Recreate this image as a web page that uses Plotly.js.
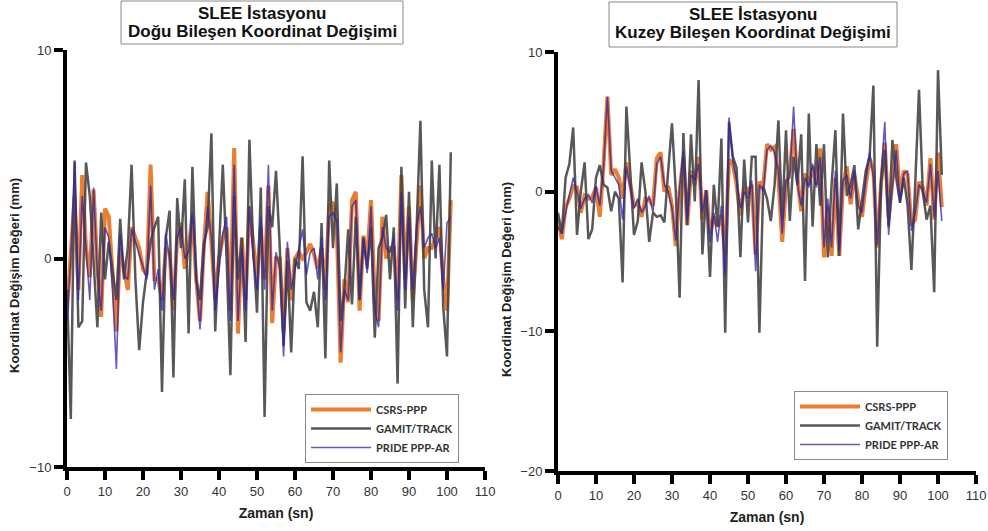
<!DOCTYPE html>
<html><head><meta charset="utf-8">
<script src="https://cdn.plot.ly/plotly-3.0.1.min.js"></script>
<style>html,body{margin:0;padding:0;background:#fff;}#chart{width:988px;height:531px;}</style>
</head><body><div id="chart"></div>
<script>
// sampling time (s)
const time = Array.from({length:102},(_,i)=>i);
const xTicks = [0,10,20,30,40,50,60,70,80,90,100,110];
const yTicksEast = [-10,0,10];
const yTicksNorth = [-20,-10,0,10];

// East component (mm)
const csrsEast = [-2.5,0.5,3.0,-1.5,4.0,0.5,-0.9,3.3,-0.5,-2.8,
 2.4,2.0,-1.0,-3.5,0.5,-0.5,-1.5,1.5,1.0,0.5,
 -0.5,-0.8,4.5,-1.0,-1.0,-2.0,0.5,0.3,-2.5,1.0,
 1.7,-0.5,0.5,2.0,-1.0,-3.0,0.5,3.2,0.8,-2.0,
 0.0,1.0,1.5,-2.5,5.3,-3.6,1.0,-2.0,2.5,0.5,
 -1.0,1.5,-1.0,3.5,-3.1,0.0,0.0,-3.5,0.5,-2.0,
 0.0,0.3,0.0,0.3,0.7,0.2,-0.5,0.5,-1.5,2.5,
 2.7,1.5,-5.0,-1.0,-2.1,2.8,3.2,-2.5,1.1,0.0,
 2.8,-2.0,-3.0,2.0,0.0,0.5,0.5,-2.0,4.0,-1.0,
 2.5,-2.0,1.0,3.5,0.0,0.5,0.5,1.0,1.5,-1.0,
 -2.5,2.8];
const gamitEast = [-1.5,-7.7,4.7,-3.3,-3.0,4.6,3.0,0.0,-3.3,2.2,
 -1.0,0.8,-0.5,-2.0,1.9,-1.0,0.5,4.5,-1.0,-4.4,
 -2.1,-0.5,0.8,1.5,2.0,-6.4,1.0,2.3,-5.7,2.9,
 0.5,3.8,-3.6,4.4,-1.0,-2.0,0.7,1.5,6.0,-3.5,
 0.5,4.5,0.0,-5.6,3.0,-1.0,1.0,-4.0,5.7,0.5,
 -2.6,3.4,-7.6,2.5,1.5,4.2,0.5,-4.2,-0.1,-4.5,
 0.0,-0.5,4.9,-2.1,-2.5,-1.6,-3.3,1.7,-4.8,4.7,
 0.5,3.6,-3.0,-1.5,1.4,-2.2,2.0,-2.0,1.0,-0.5,
 1.5,-3.8,0.5,1.0,2.1,-1.0,1.5,-6.0,4.4,-2.4,
 3.2,-3.3,1.4,6.6,-1.5,-3.3,4.7,0.0,4.5,-2.3,
 -4.7,5.1];
const prideEast = [-3.0,0.0,4.6,-2.0,3.0,0.3,-2.0,3.4,-0.8,-2.5,
 1.5,1.0,-1.5,-5.3,1.2,-0.8,-1.0,1.4,0.8,0.3,
 -0.3,-1.0,3.5,-1.5,-0.5,-2.5,1.2,0.0,-2.0,1.0,
 1.5,0.0,0.3,2.2,-0.8,-3.4,0.2,2.5,1.0,-2.5,
 -0.5,1.2,2.0,-3.0,4.5,-3.0,0.5,-2.5,2.5,0.0,
 -1.5,2.0,-1.5,4.5,-2.5,0.3,-0.5,-4.7,0.8,-1.5,
 -0.5,0.5,1.4,-0.8,0.3,0.5,-1.0,1.0,-2.0,2.0,
 2.2,1.8,-4.5,-1.5,-2.0,2.5,2.8,-2.0,1.0,-0.7,
 2.5,-2.5,-3.3,1.5,0.5,0.3,1.0,-2.5,3.2,-1.5,
 2.0,-1.5,1.5,2.5,0.5,1.0,1.2,0.5,1.0,-1.5,
 1.7,2.0];

// North component (mm)
const csrsNorth = [-2.0,-3.4,-1.1,-0.5,0.4,0.3,-1.5,-0.3,-0.5,-0.4,
 0.3,-1.8,2.0,6.8,1.2,1.6,1.0,-0.5,2.1,0.5,
 -1.0,-0.8,-1.8,-0.5,-0.6,-1.0,2.4,2.8,0.0,0.4,
 -1.0,-3.9,0.0,2.5,-2.4,1.5,0.5,2.5,-2.0,0.1,
 -3.0,-1.8,-2.5,-1.7,-4.5,2.3,2.0,0.5,-1.7,0.4,
 0.0,0.5,-4.5,0.7,0.4,3.4,3.0,3.2,1.0,-3.6,
 0.5,1.5,4.5,1.0,-1.4,1.3,0.5,1.8,0.5,3.1,
 -4.7,-1.0,-4.6,1.0,-4.6,0.5,1.8,-0.9,1.2,-0.5,
 -1.8,0.5,2.4,1.5,-4.0,0.5,3.5,-1.9,0.5,3.4,
 -0.3,1.5,1.2,-2.4,-2.0,0.7,0.3,-1.0,2.4,-2.0,
 2.8,-1.1];
const gamitNorth = [-1.5,-3.0,1.0,2.0,4.6,-3.1,0.0,2.1,-3.4,-2.7,
 1.0,1.9,0.5,0.3,-1.4,0.0,-0.5,-6.5,6.1,1.0,
 -3.1,-2.1,2.1,0.0,-3.6,-1.5,-1.8,-1.7,-2.2,1.5,
 4.9,0.0,-7.6,4.2,-2.4,4.1,-0.7,8.0,-4.5,0.1,
 -6.1,0.5,-2.5,3.8,-10.1,5.0,2.5,1.7,-4.7,2.3,
 -2.2,2.5,2.5,-10.1,0.4,-0.5,-2.1,0.5,5.1,-2.0,
 4.4,-2.1,2.5,0.5,4.1,-6.4,5.6,-2.5,3.4,-1.0,
 3.4,-4.7,0.5,4.4,-4.6,5.6,-0.3,0.5,1.9,-2.7,
 -0.5,1.5,2.5,7.6,-11.1,0.5,3.0,-2.5,3.7,1.0,
 -0.8,1.0,-1.0,-5.6,0.5,7.3,0.0,-2.0,-1.0,-7.2,
 8.7,1.2];
const prideNorth = [-2.5,-3.0,-1.5,-0.3,1.0,0.0,-1.2,-0.5,-0.2,-0.8,
 0.4,-1.0,1.8,6.8,1.5,1.0,0.5,-2.0,1.8,0.3,
 -1.2,-0.5,-1.5,-1.0,-0.3,-1.5,2.0,2.5,0.5,0.0,
 -1.2,-3.5,0.3,2.9,-2.0,1.2,0.8,2.0,-1.5,0.1,
 -3.6,-1.5,-3.6,-1.0,-6.0,5.3,2.2,0.8,-1.2,0.0,
 -0.5,0.8,-5.7,0.5,0.0,3.0,3.3,2.8,1.5,-3.0,
 0.8,1.0,6.1,0.5,-1.0,1.0,0.3,2.0,0.3,2.5,
 -4.0,-0.5,-4.0,1.5,-4.2,0.8,1.2,-0.5,1.5,-1.0,
 -1.5,0.8,2.8,1.0,-3.8,1.0,5.0,-3.1,0.3,3.0,
 -0.8,1.3,1.5,-2.8,-1.5,0.5,0.0,-0.8,2.0,-1.8,
 1.5,-2.1];

const seriesNames = ['CSRS-PPP','GAMIT/TRACK','PRIDE PPP-AR'];
const stationTitle = 'SLEE İstasyonu';
const titleEast = 'Doğu Bileşen Koordinat Değişimi';
const titleNorth = 'Kuzey Bileşen Koordinat Değişimi';
const xTitle = 'Zaman (sn)';
const yTitle = 'Koordinat Değişim Değeri (mm)';

const styles = [
  {color:'#ED7D31', width:4},
  {color:'rgba(70,70,70,0.9)', width:2.5},
  {color:'rgba(45,35,170,0.75)', width:1.6}
];

function mk(y, i, xa, ya, leg){
  return {x:time, y:y, type:'scatter', mode:'lines', name:seriesNames[i],
    xaxis:xa, yaxis:ya, legend:leg, line:{color:styles[i].color, width:styles[i].width}};
}

const data = [
  mk(csrsEast,0,'x','y','legend'), mk(gamitEast,1,'x','y','legend'), mk(prideEast,2,'x','y','legend'),
  mk(csrsNorth,0,'x2','y2','legend2'), mk(gamitNorth,1,'x2','y2','legend2'), mk(prideNorth,2,'x2','y2','legend2')
];

const W=988,H=531;
const FF='Liberation Sans, Arial, sans-serif';
const panels = [
  {x0:67, x1:485, y0:50, y1:467, yr:[-10,10], yt:yTicksEast},
  {x0:558, x1:976, y0:52, y1:471, yr:[-20,10], yt:yTicksNorth}
];
function xax(p, anchor){return {domain:[p.x0/W, p.x1/W], range:[0,110], tickvals:xTicks, anchor:anchor, showline:true, linewidth:4, linecolor:'#000',
  ticks:'outside', ticklen:9, tickwidth:4, tickcolor:'#000', showgrid:false, zeroline:false,
  tickfont:{family:FF, size:13, color:'#333'},
  title:{text:'<b>'+xTitle+'</b>', font:{family:FF, size:14, color:'#222'}, standoff:12}, automargin:false};}
function yax(p, anchor){return {domain:[1-p.y1/H, 1-p.y0/H], range:p.yr, tickvals:p.yt, showline:true, linewidth:4, linecolor:'#000',
  ticks:'outside', ticklen:9, tickwidth:4, tickcolor:'#000', showgrid:false, zeroline:false,
  tickfont:{family:FF, size:13, color:'#333'}, anchor:anchor, automargin:false};}

const legStyle = (x,y)=>({x:x, y:y, xanchor:'left', yanchor:'top', bordercolor:'#888', borderwidth:1,
  bgcolor:'#fff', itemwidth:60, font:{family:'Lato, Open Sans, sans-serif', size:11, color:'#333', weight:'bold'}, tracegroupgap:0});

function txt(t, x, y, size, extra){
  return Object.assign({text:'<b>'+t+'</b>', xref:'paper', yref:'paper', x:x/W, y:1-y/H, xanchor:'center', yanchor:'middle',
    showarrow:false, font:{family:FF, size:size, color:'#111'}}, extra||{});
}

const layout = {
  width:W, height:H, margin:{l:0,r:0,t:0,b:0}, paper_bgcolor:'#fff', plot_bgcolor:'#fff',
  showlegend:true,
  xaxis: xax(panels[0], 'y'),
  yaxis: yax(panels[0], 'x'),
  xaxis2: xax(panels[1], 'y2'),
  yaxis2: yax(panels[1], 'x2'),
  legend: legStyle(305/W, 1-394/H),
  legend2: legStyle(794/W, 1-391/H),
  shapes: [
    {type:'rect', xref:'paper', yref:'paper', x0:121/W, x1:403/W, y0:1-44/H, y1:1-1/H, line:{color:'#888', width:1}},
    {type:'rect', xref:'paper', yref:'paper', x0:609/W, x1:897/W, y0:1-47/H, y1:1-2/H, line:{color:'#888', width:1}}
  ],
  annotations: [
    txt(stationTitle, 262, 13, 17),
    txt(titleEast, 262, 32, 17),
    txt(stationTitle, 753, 15, 17),
    txt(titleNorth, 753, 33, 17),
    txt(yTitle, 14, 276, 13, {textangle:-90, font:{family:FF, size:13, color:'#222'}}),
    txt(yTitle, 506, 280, 13, {textangle:-90, font:{family:FF, size:13, color:'#222'}})
  ]
};
Plotly.newPlot('chart', data, layout, {displayModeBar:false});
</script></body></html>
